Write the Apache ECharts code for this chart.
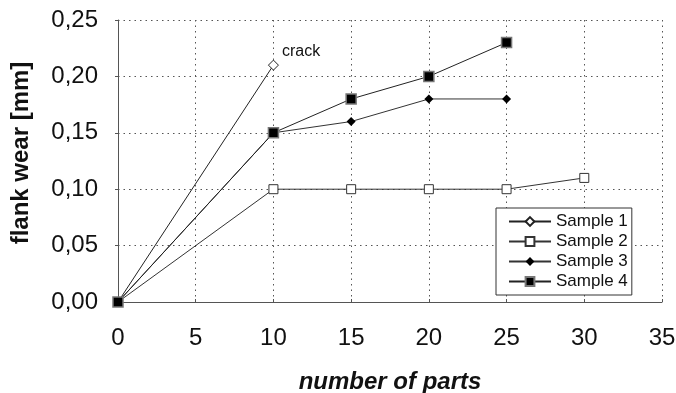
<!DOCTYPE html>
<html>
<head>
<meta charset="utf-8">
<script src="https://cdn.jsdelivr.net/npm/echarts@6/dist/echarts.min.js"></script>
<style>
html,body{margin:0;padding:0;background:#fff;}
#chart{width:676px;height:393px;}
</style>
</head>
<body>
<div id="chart"></div>
<script>
const parts1 = [0, 10];
const sample1 = [0.00, 0.21];
const parts2 = [0, 10, 15, 20, 25, 30];
const sample2 = [0.00, 0.10, 0.10, 0.10, 0.10, 0.11];
const parts3 = [0, 10, 15, 20, 25];
const sample3 = [0.00, 0.15, 0.16, 0.18, 0.18];
const parts4 = [0, 10, 15, 20, 25];
const sample4 = [0.00, 0.15, 0.18, 0.20, 0.23];
const seriesNames = ['Sample 1', 'Sample 2', 'Sample 3', 'Sample 4'];
const crackNote = 'crack';
const xTitle = 'number of parts';
const yTitle = 'flank wear [mm]';

const FONT = '"Liberation Sans", Arial, sans-serif';
function pairs(xs, ys) { return xs.map((x, i) => [x, ys[i]]); }

const s1 = pairs(parts1, sample1);
s1[1] = {
  value: s1[1],
  label: {
    show: true, formatter: crackNote, position: [14, -16],
    align: 'left', verticalAlign: 'top',
    fontFamily: FONT, fontSize: 16, color: '#111'
  }
};

const chart = echarts.init(document.getElementById('chart'), null, {renderer: 'canvas'});
const gridDash = {color: '#555', width: 1, type: [1.5, 4]};
chart.setOption({
  animation: false,
  backgroundColor: '#fff',
  grid: {left: 118, right: 14, top: 20, bottom: 91, containLabel: false, outerBoundsMode: 'none'},
  xAxis: {
    type: 'value', min: 0, max: 35, interval: 5,
    name: xTitle, nameLocation: 'middle', nameGap: 68,
    nameTextStyle: {fontFamily: FONT, fontSize: 24, fontWeight: 'bold', fontStyle: 'italic', color: '#111'},
    axisLine: {show: true, lineStyle: {color: '#555', width: 1}},
    axisTick: {show: true, inside: true, length: 3, lineStyle: {color: '#555'}},
    axisLabel: {fontFamily: FONT, fontSize: 24, color: '#111', margin: 24},
    splitLine: {show: true, lineStyle: gridDash}
  },
  yAxis: {
    type: 'value', min: 0, max: 0.25, interval: 0.05,
    name: yTitle, nameLocation: 'middle', nameGap: 85,
    nameTextStyle: {fontFamily: FONT, fontSize: 24, fontWeight: 'bold', color: '#111', padding: [0, 0, 0, 16]},
    axisLine: {show: true, lineStyle: {color: '#555', width: 1}},
    axisTick: {show: true, length: 3, lineStyle: {color: '#555'}},
    axisLabel: {fontFamily: FONT, fontSize: 24, color: '#111', margin: 20,
      formatter: v => v.toFixed(2).replace('.', ',')},
    splitLine: {show: true, lineStyle: gridDash}
  },
  legend: {
    orient: 'vertical', left: 496, top: 208,
    padding: [5, 4, 5, 12],
    backgroundColor: '#fff', borderColor: '#333', borderWidth: 1,
    itemWidth: 42, itemHeight: 11, itemGap: 3,
    textStyle: {fontFamily: FONT, fontSize: 17, color: '#111', lineHeight: 17},
    data: seriesNames
  },
  series: [
    {
      name: seriesNames[0], type: 'line', data: s1,
      symbol: 'diamond', symbolSize: 10,
      itemStyle: {color: '#fff', borderColor: '#222', borderWidth: 1},
      lineStyle: {color: '#222', width: 1}
    },
    {
      name: seriesNames[1], type: 'line', data: pairs(parts2, sample2),
      symbol: 'rect', symbolSize: 9,
      itemStyle: {color: '#fff', borderColor: '#333', borderWidth: 1},
      lineStyle: {color: '#333', width: 1}
    },
    {
      name: seriesNames[2], type: 'line', data: pairs(parts3, sample3),
      symbol: 'diamond', symbolSize: 9,
      itemStyle: {color: '#000', borderColor: '#000', borderWidth: 0},
      lineStyle: {color: '#333', width: 1}
    },
    {
      name: seriesNames[3], type: 'line', data: pairs(parts4, sample4),
      symbol: 'rect', symbolSize: 10,
      itemStyle: {color: '#000', borderColor: '#777', borderWidth: 1.5},
      lineStyle: {color: '#222', width: 1}
    }
  ]
});
</script>
</body>
</html>
